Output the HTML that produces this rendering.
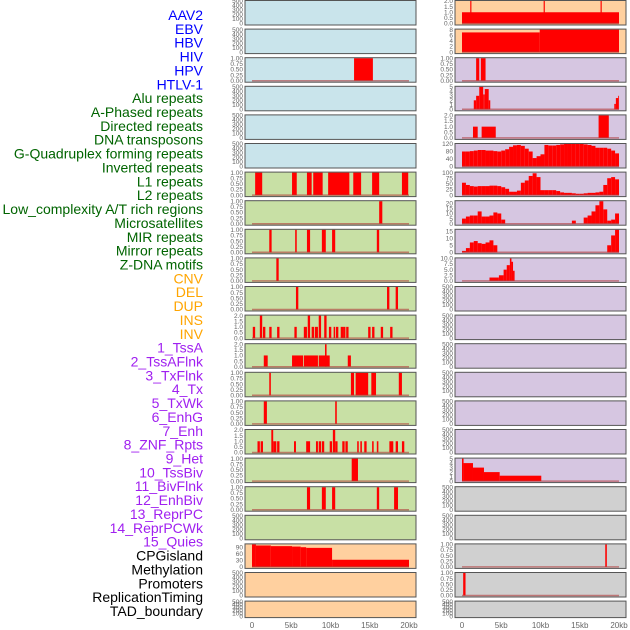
<!DOCTYPE html>
<html><head><meta charset="utf-8"><style>
html,body{margin:0;padding:0;background:#fff;}
svg{display:block;}
.lab{font-family:"Liberation Sans",sans-serif;font-size:14px;}
.tk{font-family:"Liberation Sans",sans-serif;font-size:6.5px;fill:#666;}
.xt{font-family:"Liberation Sans",sans-serif;font-size:8px;fill:#666;}
</style></head><body>
<svg id="chart" width="630" height="630" viewBox="0 0 630 630"></svg>
<script>
// ---- data (kb intervals [start,end,value]) ----
const trackLabels = ["AAV2","EBV","HBV","HIV","HPV","HTLV-1","Alu repeats","A-Phased repeats","Directed repeats","DNA transposons","G-Quadruplex forming repeats","Inverted repeats","L1 repeats","L2 repeats","Low_complexity A/T rich regions","Microsatellites","MIR repeats","Mirror repeats","Z-DNA motifs","CNV","DEL","DUP","INS","INV","1_TssA","2_TssAFlnk","3_TxFlnk","4_Tx","5_TxWk","6_EnhG","7_Enh","8_ZNF_Rpts","9_Het","10_TssBiv","11_BivFlnk","12_EnhBiv","13_ReprPC","14_ReprPCWk","15_Quies","CPGisland","Methylation","Promoters","ReplicationTiming","TAD_boundary"];
const labelGroups = ["v","v","v","v","v","v","r","r","r","r","r","r","r","r","r","r","r","r","r","c","c","c","c","c","s","s","s","s","s","s","s","s","s","s","s","s","s","s","s","k","k","k","k","k"];
const xTicks = [0,5,10,15,20];
const xTickLabels = ["0","5kb","10kb","15kb","20kb"];

const L_HIV = [[13.0,15.4,1]];
const L_R6 = [[0.4,1.3,1],[5.1,5.7,1],[7.0,7.6,1],[7.8,9.0,1],[9.7,12.4,1],[12.9,13.9,1],[15.3,16.2,1],[19.1,19.9,1]];
const L_R7 = [[16.2,16.6,1]];
const L_R8 = [[2.2,2.5,1],[5.5,5.7,1],[7.0,7.4,1],[8.9,9.4,1],[10.2,10.6,1],[15.9,16.2,1]];
const L_R9 = [[3.1,3.4,1]];
const L_R10 = [[5.6,5.9,1],[17.2,17.5,1],[18.3,18.6,1]];
const L_R11 = [[0.1,0.4,1],[1.0,1.3,2],[1.4,1.7,1],[2.2,2.5,1],[3.2,3.5,1],[5.4,5.7,1],[6.6,7.0,1],[7.1,7.4,2],[7.6,7.9,1],[8.0,8.4,1],[8.5,8.8,2],[9.2,9.5,2],[9.8,10.1,1],[10.4,10.6,1],[10.7,11.0,1],[11.3,11.6,1],[11.6,11.9,1],[12.0,12.3,1],[14.8,15.1,1],[15.3,15.6,1],[16.4,16.7,1],[17.6,17.9,1]];
const L_R12 = [[1.5,2.0,1],[5.1,6.5,1],[6.6,8.4,1],[8.5,9.9,1],[9.3,9.5,2],[12.2,12.6,1]];
const L_R13 = [[2.2,2.4,1],[12.6,13.0,1],[13.2,14.8,1],[15.2,15.8,1],[18.7,19.1,1]];
const L_R14 = [[1.5,1.9,1],[10.6,10.8,1]];
const L_R15 = [[0.7,1.0,1],[1.1,1.4,1],[2.46,2.7,2],[2.7,3.1,1],[3.2,3.5,1],[5.35,5.6,1],[6.9,7.4,1],[8.15,8.4,1],[8.5,8.8,1],[8.9,9.2,1],[9.9,10.2,1],[10.3,10.6,2],[10.6,10.9,1],[11.5,11.8,1],[11.9,12.2,1],[13.4,13.6,1],[13.8,14.0,1],[14.3,14.6,1],[15.3,15.5,1],[15.9,16.1,1],[17.5,18.0,1],[18.3,18.6,1],[19.1,19.4,1]];
const L_R16 = [[12.7,13.5,1]];
const L_R17 = [[7.0,7.4,1],[8.9,9.4,1],[10.2,10.6,1],[15.9,16.2,1],[18.1,18.6,1]];
const L_METH = [[0,0.5,105],[0.5,2.4,99],[2.4,5.1,96],[5.1,6.2,94],[6.2,6.9,91],[6.9,10.2,88],[10.2,20,33]];

const R_AAV2 = [[0,20,1],[1.05,1.2,2],[10.4,10.55,2],[17.65,17.8,2]];
const R_EBV = [[0,9.9,7],[9.9,20,8]];
const R_HIV = [[1.8,2.2,1],[2.4,3.0,1]];
const R_ALU = [[1.5,1.8,2],[1.8,2.2,3],[2.2,2.7,5],[2.7,2.9,3.3],[2.9,3.4,4.5],[3.4,3.6,2],[19.4,19.6,1.2],[19.6,19.9,2.5],[19.9,20,3]];
const R_APH = [[1.4,2.0,1],[2.5,4.3,1],[17.4,18.7,2]];
const R_GQUAD = [80,80,82,85,88,88,85,85,82,80,85,92,105,113,115,110,95,80,45,55,65,115,112,112,115,118,120,122,122,120,120,118,115,110,100,100,100,95,85,70];
const R_L1 = [55,45,40,38,40,40,40,42,42,40,35,28,15,15,20,55,65,85,97,80,22,22,22,22,18,12,10,10,8,6,6,8,10,10,12,15,45,75,80,70];
const R_L2 = [5,7,8,8,12,7,7,8,11,10,4,0,0,0,0,0,0,0,0,0,0,0,0,0,0,0,0,0,3,0,0,6,8,12,18,23,14,3,4,10];
const R_LOWC = [1,3,7,8,6.5,6,7,8.5,5,0,0,0,0,0,0,0,0,0,0,0,0,0,0,0,0,0,0,0,0,0,0,0,0,0,0,0,0,5,12,17];
const R_ZDNA = [[3.5,4.7,1.5],[4.7,5.3,2.5],[5.3,5.7,5],[5.7,6.1,7],[6.1,6.3,10],[6.3,6.5,8.5],[6.5,6.7,4.5]];
const R_HET = [[0,0.2,5],[0.2,1.4,4],[1.4,2.8,3],[2.8,4.8,2],[4.8,10.1,1.2]];
const R_CPG = [[18.25,18.45,1]];
const R_METH = [[0.15,0.45,1]];

// ---- layout ----
const COL = {blue:"#c9e4eb",green:"#c8e0a5",orange:"#ffd09f",purple:"#d6c6e1",gray:"#d0d0d0"};
const TK500 = {v:[0,100,200,300,400,500],l:["0","100","200","300","400","500"],max:500};
const TK1 = {v:[0,0.25,0.5,0.75,1],l:["0.00","0.25","0.50","0.75","1.00"],max:1};
const TK2 = {v:[0,0.5,1,1.5,2],l:["0.0","0.5","1.0","1.5","2.0"],max:2};
function series(arr){return arr.map((v,i)=>[i*0.5,i*0.5+0.5,v]);}
const panels = [
 {r:0,s:"L",bg:"blue",tk:TK500,d:null,n:"aav2"},
 {r:1,s:"L",bg:"blue",tk:TK500,d:null,n:"ebv"},
 {r:2,s:"L",bg:"blue",tk:TK1,d:L_HIV,n:"hiv"},
 {r:3,s:"L",bg:"blue",tk:TK500,d:null,n:"hpv"},
 {r:4,s:"L",bg:"blue",tk:TK500,d:null,n:"htlv"},
 {r:5,s:"L",bg:"blue",tk:TK500,d:null,n:"virus-6"},
 {r:6,s:"L",bg:"green",tk:TK1,d:L_R6,n:"row-6"},
 {r:7,s:"L",bg:"green",tk:TK1,d:L_R7,n:"row-7"},
 {r:8,s:"L",bg:"green",tk:TK1,d:L_R8,n:"row-8"},
 {r:9,s:"L",bg:"green",tk:TK1,d:L_R9,n:"row-9"},
 {r:10,s:"L",bg:"green",tk:TK1,d:L_R10,n:"row-10"},
 {r:11,s:"L",bg:"green",tk:TK2,d:L_R11,n:"row-11"},
 {r:12,s:"L",bg:"green",tk:TK2,d:L_R12,n:"row-12"},
 {r:13,s:"L",bg:"green",tk:TK1,d:L_R13,n:"row-13"},
 {r:14,s:"L",bg:"green",tk:TK1,d:L_R14,n:"row-14"},
 {r:15,s:"L",bg:"green",tk:TK2,d:L_R15,n:"row-15"},
 {r:16,s:"L",bg:"green",tk:TK1,d:L_R16,n:"row-16"},
 {r:17,s:"L",bg:"green",tk:TK1,d:L_R17,n:"row-17"},
 {r:18,s:"L",bg:"green",tk:TK500,d:null,n:"row-18"},
 {r:19,s:"L",bg:"orange",tk:{v:[0,30,60,90],l:["0","30","60","90"],max:104},d:L_METH,n:"methylation"},
 {r:20,s:"L",bg:"orange",tk:TK500,d:null,n:"row-20"},
 {r:21,s:"L",bg:"orange",tk:TK500,d:null,n:"row-21"},
 {r:0,s:"R",bg:"orange",tk:TK2,d:R_AAV2,n:"aav2"},
 {r:1,s:"R",bg:"orange",tk:{v:[0,2,4,6,8],l:["0","2","4","6","8"],max:8},d:R_EBV,n:"ebv"},
 {r:2,s:"R",bg:"purple",tk:TK1,d:R_HIV,n:"hiv"},
 {r:3,s:"R",bg:"purple",tk:{v:[0,1,2,3,4,5],l:["0","1","2","3","4","5"],max:5},d:R_ALU,n:"alu"},
 {r:4,s:"R",bg:"purple",tk:TK2,d:R_APH,n:"a-phased"},
 {r:5,s:"R",bg:"purple",tk:{v:[0,40,80,120],l:["0","40","80","120"],max:120},d:series(R_GQUAD),n:"g-quad"},
 {r:6,s:"R",bg:"purple",tk:{v:[0,25,50,75,100],l:["0","25","50","75","100"],max:100},d:series(R_L1),n:"l1"},
 {r:7,s:"R",bg:"purple",tk:{v:[0,5,10,15,20],l:["0","5","10","15","20"],max:22},d:series(R_L2),n:"l2"},
 {r:8,s:"R",bg:"purple",tk:{v:[0,5,10,15],l:["0","5","10","15"],max:16},d:series(R_LOWC),n:"low-complexity"},
 {r:9,s:"R",bg:"purple",tk:{v:[0,2.5,5,7.5,10],l:["0.0","2.5","5.0","7.5","10.0"],max:10},d:R_ZDNA,n:"z-dna"},
 {r:10,s:"R",bg:"purple",tk:TK500,d:null,n:"row-10"},
 {r:11,s:"R",bg:"purple",tk:TK500,d:null,n:"row-11"},
 {r:12,s:"R",bg:"purple",tk:TK500,d:null,n:"row-12"},
 {r:13,s:"R",bg:"purple",tk:TK500,d:null,n:"row-13"},
 {r:14,s:"R",bg:"purple",tk:TK500,d:null,n:"row-14"},
 {r:15,s:"R",bg:"purple",tk:TK500,d:null,n:"row-15"},
 {r:16,s:"R",bg:"purple",tk:{v:[0,1,2,3,4,5],l:["0","1","2","3","4","5"],max:5},d:R_HET,n:"het"},
 {r:17,s:"R",bg:"gray",tk:TK500,d:null,n:"row-17"},
 {r:18,s:"R",bg:"gray",tk:TK500,d:null,n:"row-18"},
 {r:19,s:"R",bg:"gray",tk:TK1,d:R_CPG,n:"cpg"},
 {r:20,s:"R",bg:"gray",tk:TK1,d:R_METH,n:"row-20"},
 {r:21,s:"R",bg:"gray",tk:TK500,d:null,n:"row-21"}
];

const NS="http://www.w3.org/2000/svg";
const svg=document.getElementById("chart");
function mk(tag,attrs,parent){const e=document.createElementNS(NS,tag);for(const k in attrs)e.setAttribute(k,attrs[k]);(parent||svg).appendChild(e);return e;}
const SIDE={L:{frame:245,x0:252,tx:243},R:{frame:455,x0:462,tx:453}};
const PXKB=7.85;
function xs(side,kb){return SIDE[side].x0+kb*PXKB;}
function rowTop(r){return r*28.6;}
function rowH(r){return r===21?17:25;}

// labels
const gcol={v:"#0000ff",r:"#006400",c:"#ffa500",s:"#a020f0",k:"#000000"};
trackLabels.forEach((t,i)=>{
 const e=mk("text",{x:203,y:15+i*13.86+5,"text-anchor":"end",class:"lab",fill:gcol[labelGroups[i]]});
 e.textContent=t;
 
 
});

panels.forEach(p=>{
 const top=rowTop(p.r),h=rowH(p.r),sd=SIDE[p.s];
 const g=mk("g",{});
 
 
 mk("rect",{x:sd.frame,y:top+0.5,width:171,height:h-0.5,fill:COL[p.bg],stroke:"none"},g);
 const y0=top+h-1.5, yt=top+1;
 const ys=v=>y0-(v/p.tk.max)*(y0-yt);
 if(p.d){
  p.d.forEach(b=>{
   if(b[2]<=0)return;
   const rr=mk("rect",{x:xs(p.s,b[0]),y:Math.max(top+1,ys(b[2])),width:Math.max(0.8,(b[1]-b[0])*PXKB),height:y0-Math.max(top+1,ys(b[2])),fill:"#ff0000"},g);
   
   
  });
  mk("line",{x1:xs(p.s,0),x2:xs(p.s,20),y1:y0,y2:y0,stroke:"#b03a3a","stroke-opacity":0.6,"stroke-width":1.5},g);
 }
 mk("rect",{x:sd.frame,y:top+0.5,width:171,height:h-0.5,fill:"none",stroke:"#555","stroke-width":1},g);
 p.tk.v.forEach((v,i)=>{
  const t=mk("text",{x:sd.tx,y:ys(v)+2.2,"text-anchor":"end",class:"tk"},g);
  t.textContent=p.tk.l[i];
 });
});

["L","R"].forEach(s=>{
 xTicks.forEach((k,i)=>{
  const t=mk("text",{x:xs(s,k),y:628,"text-anchor":"middle",class:"xt"});
  t.textContent=xTickLabels[i];
  
  
 });
});
</script>
</body></html>
